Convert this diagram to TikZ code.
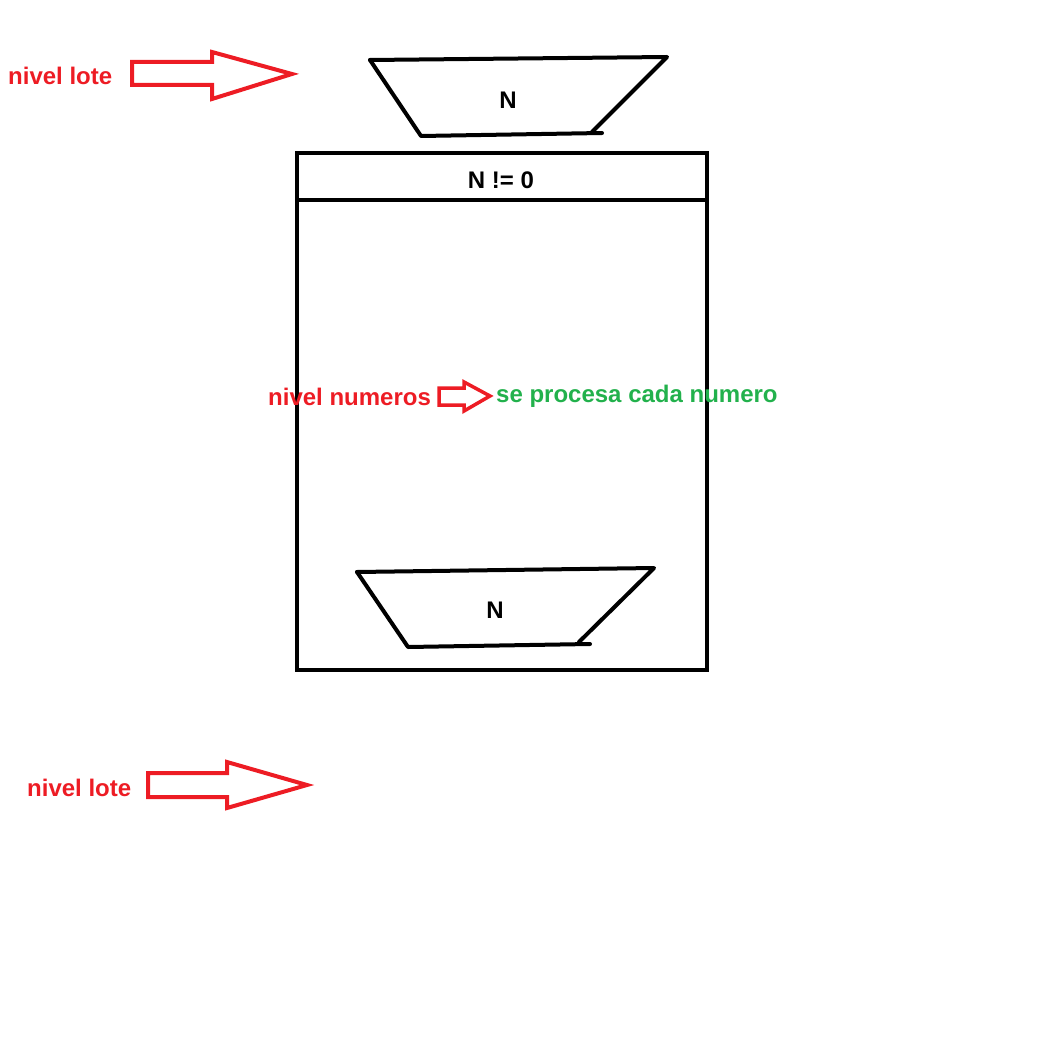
\documentclass[tikz,border=0pt]{standalone}
\usepackage{fontspec}
\setmainfont{Liberation Sans}
\definecolor{paintred}{RGB}{237,28,36}
\definecolor{paintgreen}{RGB}{34,177,76}
\tikzset{
  pen/.style={line width=4pt, line cap=round, line join=round},
  blockarrow/.style={draw=paintred, line width=4pt, line join=miter},
  txt/.style={font=\bfseries\fontsize{24}{28}\selectfont, inner sep=0pt},
}

\begin{document}
\begin{tikzpicture}[x=1pt, y=-1pt]
  \useasboundingbox (0,0) rectangle (1061,1064);

  % first read of N
  \draw[pen] (370,60) -- (667,57) -- (592,132);
  \draw[pen] (370,60) -- (421,136) -- (602,133);
  \node[txt] (N1) at (508,100) {N};

  % loop box
  \draw[pen, line cap=butt, line join=miter] (297,153) rectangle (707,670);
  \draw[pen, line cap=butt] (297,200) -- (707,200);
  \node[txt] (cond) at (501,180) {N != 0};

  % read of N at the end of the loop
  \draw[pen] (357,572) -- (654,568) -- (579,642);
  \draw[pen] (357,572) -- (408,647) -- (590,644);
  \node[txt] (N2) at (495,610) {N};

  % levels
  \node[txt, text=paintred, anchor=base west] (lote1) at (8,85) {nivel lote};
  \draw[blockarrow] (132,62) -- (212,62) -- (212,52) -- (292,74)
    -- (212,99) -- (212,85) -- (132,85) -- cycle;

  \node[txt, text=paintred, anchor=base west] (numeros) at (268,405) {nivel numeros};
  \draw[blockarrow, line width=3.5pt] (439,388) -- (464,388) -- (464,382) -- (490,396)
    -- (464,411) -- (464,405) -- (439,405) -- cycle;
  \node[txt, text=paintgreen, anchor=base west] (proceso) at (496,402) {se procesa cada numero};

  \node[txt, text=paintred, anchor=base west] (lote2) at (27,796) {nivel lote};
  \draw[blockarrow] (148,773) -- (227,773) -- (227,762) -- (307,785)
    -- (227,808) -- (227,797) -- (148,797) -- cycle;

\end{tikzpicture}
\end{document}
